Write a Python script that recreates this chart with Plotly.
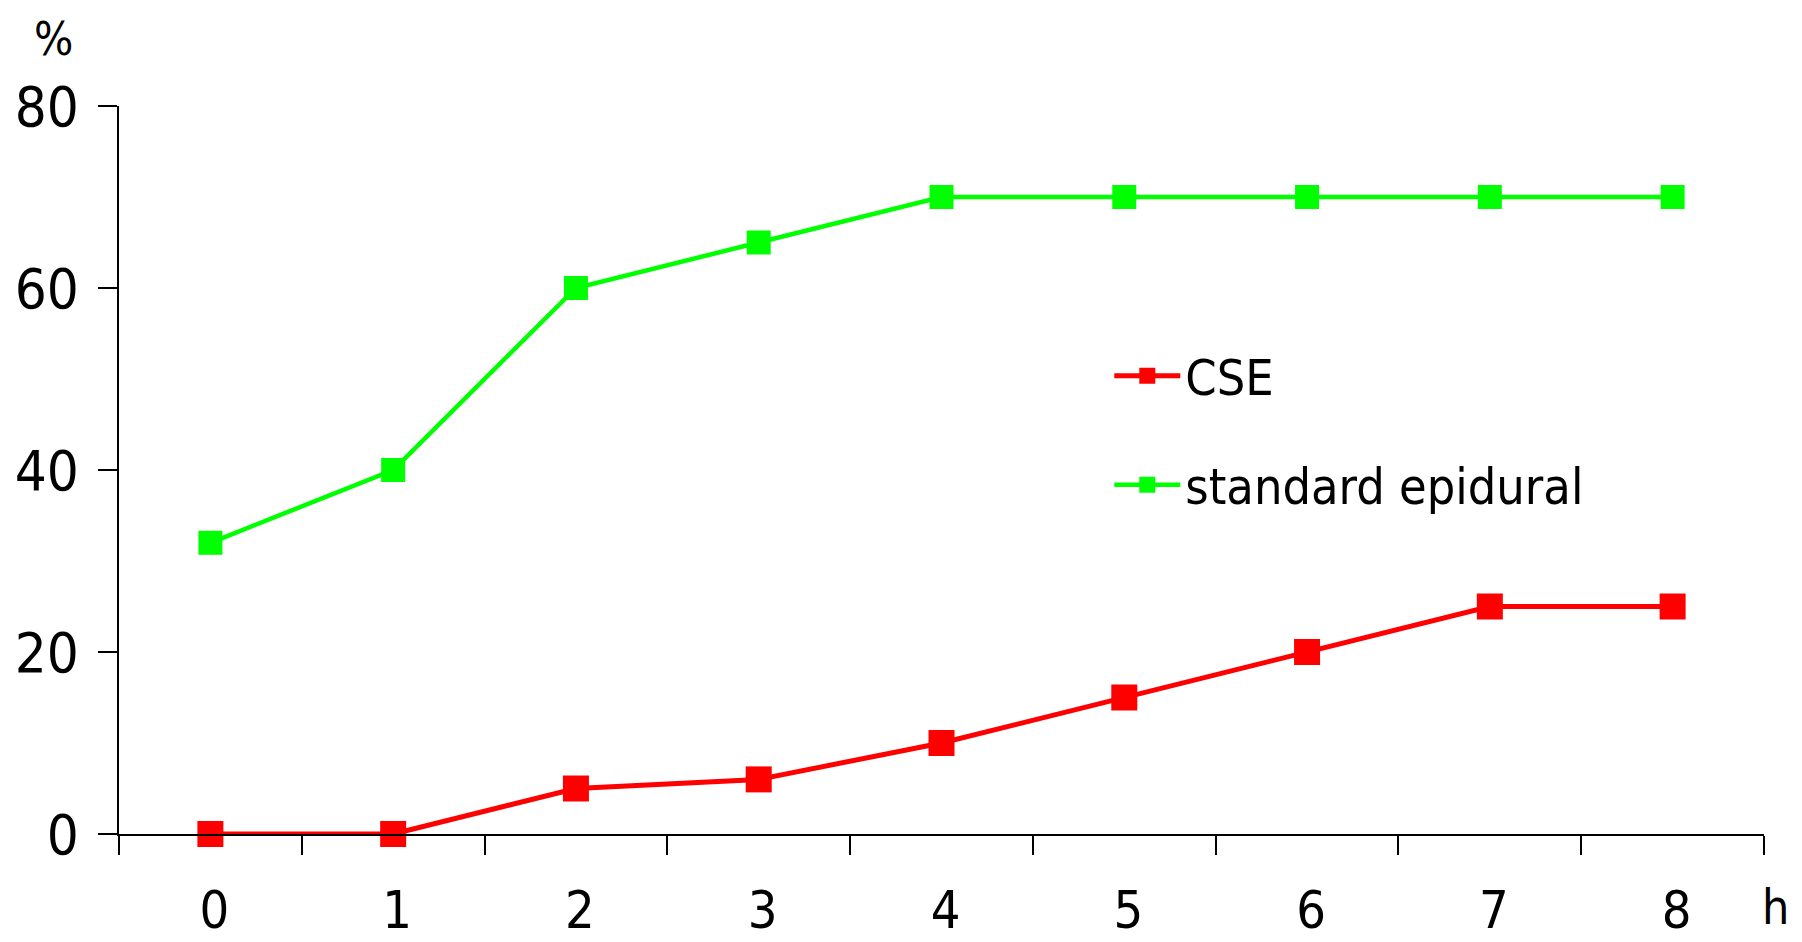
import plotly.graph_objects as go

hours = ["0", "1", "2", "3", "4", "5", "6", "7", "8"]
cse = [0, 0, 5, 6, 10, 15, 20, 25, 25]
standard_epidural = [32, 40, 60, 65, 70, 70, 70, 70, 70]
y_ticks = [0, 20, 40, 60, 80]

FONT = "DejaVu Sans Condensed, DejaVu Sans, sans-serif"

fig = go.Figure()
fig.add_trace(go.Scatter(
    x=hours, y=cse, name="CSE", mode="lines+markers",
    line=dict(color="#ff0000", width=5),
    marker=dict(symbol="square", size=26, color="#ff0000"),
    cliponaxis=False, legendgroup="a",
))
fig.add_trace(go.Scatter(
    x=hours, y=standard_epidural, name="standard epidural", mode="lines+markers",
    line=dict(color="#00ff00", width=4.5),
    marker=dict(symbol="square", size=24, color="#00ff00"),
    cliponaxis=False, legendgroup="b",
))

fig.update_layout(
    width=1802, height=942,
    margin=dict(l=111, r=46, t=98, b=116, autoexpand=False),
    paper_bgcolor="white", plot_bgcolor="white",
    font=dict(family=FONT, size=54, color="black"),
    showlegend=True,
    legend=dict(
        x=0.602, y=0.683, xanchor="left", yanchor="top",
        font=dict(family=FONT, size=50, color="black"),
        bgcolor="rgba(0,0,0,0)", traceorder="grouped", tracegroupgap=41,
        itemwidth=66,
    ),
    xaxis=dict(
        type="category", range=[-0.5, 8.5], automargin=False,
        showline=True, linecolor="black", linewidth=2,
        ticks="outside", ticklen=19, tickwidth=2, tickcolor="black",
        tickson="boundaries", showgrid=False, zeroline=False,
        tickfont=dict(family=FONT, size=52, color="black"),
        ticklabelstandoff=30, ticklabelshift=4,
    ),
    yaxis=dict(
        range=[0, 80], tickvals=y_ticks, automargin=False,
        showline=True, linecolor="black", linewidth=2,
        ticks="outside", ticklen=19, tickwidth=2, tickcolor="black",
        showgrid=False, zeroline=False,
        tickfont=dict(family=FONT, size=56, color="black"),
        ticklabelstandoff=8,
    ),
    annotations=[
        dict(text="%", xref="paper", yref="paper", x=-0.0401, y=1.1319,
             xanchor="center", yanchor="top", showarrow=False,
             font=dict(family=FONT, size=46, color="black")),
        dict(text="h", xref="paper", yref="paper", x=1.0067, y=-0.1000,
             xanchor="center", yanchor="middle", showarrow=False,
             font=dict(family=FONT, size=48, color="black")),
    ],
)

fig.write_html("out.html")
